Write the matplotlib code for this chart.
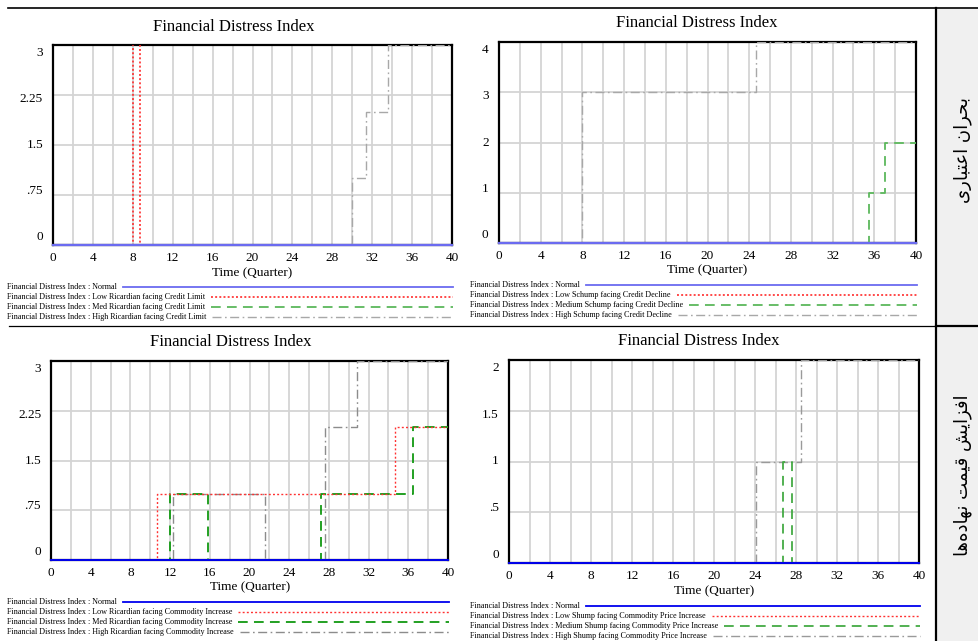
import matplotlib
matplotlib.use("Agg")
import matplotlib.pyplot as plt
from matplotlib.lines import Line2D
from matplotlib.patches import Rectangle

plt.rcParams['font.family'] = ['Liberation Serif', 'DejaVu Serif']
plt.rcParams['lines.scale_dashes'] = False

W, H = 979, 641

# ---------------- data ----------------
title = "Financial Distress Index"
xlabel = "Time (Quarter)"
x_ticks = [0, 4, 8, 12, 16, 20, 24, 28, 32, 36, 40]

# Panel 1: credit crisis, Ricardian
p1_yticks = [0, 0.75, 1.5, 2.25, 3]
p1_ylabels = ["0", ".75", "1.5", "2.25", "3"]
p1_normal_t, p1_normal_v = [0, 40], [0, 0]
p1_low_t, p1_low_v = [0, 8, 8.7, 40], [0, 5, 0, 0]
p1_med_t, p1_med_v = [0, 40], [0, 0]
p1_high_t, p1_high_v = [0, 30, 31.4, 33.6, 40], [0, 1, 2, 3, 3]
p1_names = ["Financial Distress Index : Normal",
            "Financial Distress Index : Low Ricardian facing Credit Limit",
            "Financial Distress Index : Med Ricardian facing Credit Limit",
            "Financial Distress Index : High Ricardian facing Credit Limit"]

# Panel 2: credit crisis, Schump
p2_yticks = [0, 1, 2, 3, 4]
p2_ylabels = ["0", "1", "2", "3", "4"]
p2_normal_t, p2_normal_v = [0, 40], [0, 0]
p2_low_t, p2_low_v = [0, 40], [0, 0]
p2_med_t, p2_med_v = [0, 35.5, 37.0, 40], [0, 1, 2, 2]
p2_high_t, p2_high_v = [0, 8, 24.7, 40], [0, 3, 4, 4]
p2_names = ["Financial Distress Index : Normal",
            "Financial Distress Index : Low Schump facing Credit Decline",
            "Financial Distress Index : Medium Schump facing Credit Decline",
            "Financial Distress Index : High Schump facing Credit Decline"]

# Panel 3: commodity price increase, Ricardian
p3_yticks = [0, 0.75, 1.5, 2.25, 3]
p3_ylabels = ["0", ".75", "1.5", "2.25", "3"]
p3_normal_t, p3_normal_v = [0, 40], [0, 0]
p3_low_t, p3_low_v = [0, 10.7, 34.7, 40], [0, 1, 2, 2]
p3_med_t, p3_med_v = [0, 12.0, 15.8, 27.2, 36.5, 40], [0, 1, 0, 1, 2, 2]
p3_high_t, p3_high_v = [0, 12.3, 21.6, 27.6, 30.8, 40], [0, 1, 0, 2, 3, 3]
p3_names = ["Financial Distress Index : Normal",
            "Financial Distress Index : Low Ricardian facing Commodity Increase",
            "Financial Distress Index : Med Ricardian facing Commodity Increase",
            "Financial Distress Index : High Ricardian facing Commodity Increase"]

# Panel 4: commodity price increase, Shump
p4_yticks = [0, 0.5, 1, 1.5, 2]
p4_ylabels = ["0", ".5", "1", "1.5", "2"]
p4_normal_t, p4_normal_v = [0, 40], [0, 0]
p4_low_t, p4_low_v = [0, 40], [0, 0]
p4_med_t, p4_med_v = [0, 26.7, 27.6, 40], [0, 1, 0, 0]
p4_high_t, p4_high_v = [0, 24.1, 28.5, 40], [0, 1, 2, 2]
p4_names = ["Financial Distress Index : Normal",
            "Financial Distress Index : Low Shump facing Commodity Price Increase",
            "Financial Distress Index : Medium Shump facing Commodity Price Increase",
            "Financial Distress Index : High Shump facing Commodity Price Increase"]

# Row labels (Persian)
row_label_top = "بحران اعتباری"
row_label_bottom = "افزایش قیمت نهاده‌ها"

# -------------- shaping for display (presentation forms, visual order) --------------
shaped = {
    "بحران اعتباری": "\uFBFC\uFEAD\uFE8E\uFE92\uFE98\uFECB\uFE8D \uFEE5\uFE8D\uFEAE\uFEA4\uFE91",
    "افزایش قیمت نهاده‌ها": "\uFE8E\uFEEB\uFEE9\uFEA9\uFE8E\uFEEC\uFEE7 \uFE96\uFEE4\uFBFF\uFED7 \uFEB6\uFBFE\uFE8D\uFEB0\uFED3\uFE8D",
}

fig = plt.figure(figsize=(W / 100, H / 100), dpi=100)


def fx(x):
    return x / W


def fy(y):
    return 1 - y / H


def make_axes(x0, x1, y0, y1):
    return fig.add_axes([fx(x0), fy(y1), fx(x1) - fx(x0), fy(y0) - fy(y1)])


styles_top = [dict(color="#6b6bf0", ls="-", lw=1.6),
              dict(color="#ff2a2a", dashes=(1.4, 1.6), lw=1.2),
              dict(color="#5cb85c", dashes=(7, 4.5), lw=1.3),
              dict(color="#a8a8a8", dashes=(6.5, 2.5, 1.2, 2.5), lw=1.0)]
styles_bot = [dict(color="#0000ee", ls="-", lw=1.4),
              dict(color="#ff3030", dashes=(1.4, 1.6), lw=1.0),
              dict(color="#119911", dashes=(7, 4.5), lw=1.3),
              dict(color="#8c8c8c", dashes=(6.5, 2.5, 1.2, 2.5), lw=1.0)]
styles_bot4 = [dict(color="#0000ee", ls="-", lw=1.4),
               dict(color="#ff3030", dashes=(1.4, 1.6), lw=1.0),
               dict(color="#44aa44", dashes=(7, 4.5), lw=1.3),
               dict(color="#9a9a9a", dashes=(6.5, 2.5, 1.2, 2.5), lw=1.0)]


def panel(box, series, yticks, ylabels, styles, title_xy, xlabel_xy,
          names, leg_x, leg_y0, leg_right):
    ax = make_axes(*box)
    ymax = yticks[-1]
    ax.set_xlim(0, 40)
    ax.set_ylim(0, ymax)
    ax.set_xticks(x_ticks)
    ax.set_xticks(range(0, 41, 2), minor=True)
    ax.set_yticks(yticks)
    ax.set_yticklabels([])
    ax.grid(True, which="both", axis="x", color="#d4d4d4", lw=1.3)
    ax.grid(True, which="major", axis="y", color="#d4d4d4", lw=1.3)
    ax.tick_params(which="both", length=0)
    ax.tick_params(axis="x", labelsize=9.5, pad=5)
    for s in ax.spines.values():
        s.set_linewidth(1.6)
        s.set_color("black")
    order = [3, 2, 1, 0]
    for i in order:
        t, v = series[i]
        ln, = ax.plot(t, v, drawstyle="steps-post", zorder=3 + (4 - i) * 0.1 if i else 5,
                      **styles[i])
        if i == 0:
            ln.set_clip_on(False)
    for val, lab in zip(yticks, ylabels):
        frac = 0.04 + 0.92 * val / ymax
        ax.text(-0.025, frac, lab, transform=ax.transAxes, ha="right",
                va="center", fontsize=9.5)
    fig.text(fx(title_xy[0]), fy(title_xy[1]), title, ha="center", va="center",
             fontsize=12)
    fig.text(fx(xlabel_xy[0]), fy(xlabel_xy[1]), xlabel, ha="center",
             va="center", fontsize=9.5)
    fig.canvas.draw()
    r = fig.canvas.get_renderer()
    for k, name in enumerate(names):
        yy = leg_y0 + 10 * k
        txt = fig.text(fx(leg_x), fy(yy), name, ha="left", va="center",
                       fontsize=5.85)
        bb = txt.get_window_extent(renderer=r)
        xs = bb.x1 + 6
        st = dict(styles[k])
        st["lw"] = min(st.get("lw", 1.0), 1.3)
        fig.add_artist(Line2D([xs / W, fx(leg_right)], [fy(yy), fy(yy)], **st))
    return ax


panel((53, 452, 45, 245),
      [(p1_normal_t, p1_normal_v), (p1_low_t, p1_low_v),
       (p1_med_t, p1_med_v), (p1_high_t, p1_high_v)],
      p1_yticks, p1_ylabels, styles_top, (234, 27), (252, 273),
      p1_names, 7, 287, 453)

panel((499, 916, 42, 243),
      [(p2_normal_t, p2_normal_v), (p2_low_t, p2_low_v),
       (p2_med_t, p2_med_v), (p2_high_t, p2_high_v)],
      p2_yticks, p2_ylabels, styles_top, (697, 23), (707, 270),
      p2_names, 470, 285, 917)

panel((51, 448, 361, 560),
      [(p3_normal_t, p3_normal_v), (p3_low_t, p3_low_v),
       (p3_med_t, p3_med_v), (p3_high_t, p3_high_v)],
      p3_yticks, p3_ylabels, styles_bot, (231, 342), (250, 587),
      p3_names, 7, 602, 449)

panel((509, 919, 360, 563),
      [(p4_normal_t, p4_normal_v), (p4_low_t, p4_low_v),
       (p4_med_t, p4_med_v), (p4_high_t, p4_high_v)],
      p4_yticks, p4_ylabels, styles_bot4, (699, 341), (714, 591),
      p4_names, 470, 606, 920)

# table frame
fig.add_artist(Rectangle((fx(937), 0), 1 - fx(937), fy(9), transform=fig.transFigure,
                         facecolor="#f0f0f0", edgecolor="none", zorder=0))
fig.add_artist(Line2D([fx(8), 1], [fy(8), fy(8)], color="black", lw=1.2))
fig.add_artist(Line2D([fx(9), fx(936)], [fy(325.5), fy(325.5)], color="black", lw=0.9))
fig.add_artist(Line2D([fx(936), 1], [fy(325.5), fy(325.5)], color="black", lw=1.6))
fig.add_artist(Line2D([fx(936), fx(936)], [0, fy(8)], color="black", lw=1.6))

fig.text(fx(963), fy(150), shaped[row_label_top], rotation=90, ha="center",
         va="center", fontsize=13, family=["DejaVu Sans"])
fig.text(fx(963), fy(475), shaped[row_label_bottom], rotation=90, ha="center",
         va="center", fontsize=13, family=["DejaVu Sans"])

fig.savefig("out.png", dpi=100)
